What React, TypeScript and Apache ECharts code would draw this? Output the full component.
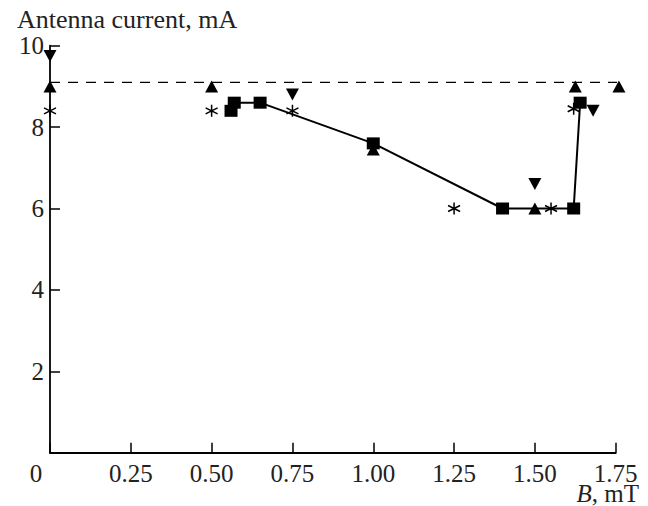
import React, { useEffect, useRef } from "react";
import * as echarts from "echarts";

const SERIF = "Liberation Serif";

// Magnetic field B (mT) and antenna current (mA) for each marker group
const squareB = [0.56, 0.57, 0.65, 1.0, 1.4, 1.62, 1.64];
const squareI = [8.4, 8.6, 8.6, 7.6, 6.0, 6.0, 8.6];

const upTriangleB = [0, 0.5, 1.0, 1.5, 1.625, 1.76];
const upTriangleI = [9.0, 9.0, 7.45, 6.0, 9.0, 9.0];

const downTriangleB = [0, 0.75, 1.5, 1.68];
const downTriangleI = [9.75, 8.8, 6.6, 8.4];

const asteriskB = [0, 0.5, 0.75, 1.25, 1.55, 1.62];
const asteriskI = [8.4, 8.4, 8.4, 6.0, 6.0, 8.45];

// Dashed reference level across the field range
const referenceB = [0, 1.76];
const referenceI = 9.1;

const xTickLabels = ["0", "0.25", "0.50", "0.75", "1.00", "1.25", "1.50", "1.75"];
const yTickLabels = ["", "2", "4", "6", "8", "10"];

const zip = (xs: number[], ys: number[]) => xs.map((x, i) => [x, ys[i]]);

const ASTERISK = "path://M6,0L6,12M0.8,3L11.2,9M0.8,9L11.2,3";

export default function App() {
  const ref = useRef<HTMLDivElement>(null);

  useEffect(() => {
    if (!ref.current) return;
    const chart = echarts.init(ref.current, null, { renderer: "svg" });

    const axisText = { fontFamily: SERIF, fontSize: 25, lineHeight: 20, color: "#222" };
    const solid = { color: "#000", opacity: 1 };

    chart.setOption({
      animation: false,
      backgroundColor: "#fff",
      grid: {
        left: 50,
        right: 32.3,
        top: 45.7,
        bottom: 53.3,
        containLabel: false,
        outerBoundsMode: "none",
      },
      xAxis: {
        type: "value",
        min: 0,
        max: 1.75,
        interval: 0.25,
        axisLine: { show: true, lineStyle: { color: "#000", width: 1.8 } },
        axisTick: { show: true, inside: true, length: 10, lineStyle: { color: "#000", width: 1.5 } },
        splitLine: { show: false },
        axisLabel: {
          ...axisText,
          margin: 11,
          formatter: (v: number) => {
            const idx = Math.round(v / 0.25);
            return idx === 0 ? "{origin|" + xTickLabels[0] + "}" : xTickLabels[idx];
          },
          rich: {
            origin: { ...axisText, padding: [0, 28, 0, 0] },
          },
        },
      },
      yAxis: {
        type: "value",
        min: 0,
        max: 10,
        interval: 2,
        axisLine: { show: true, lineStyle: { color: "#000", width: 1.8 } },
        axisTick: { show: true, inside: true, length: 10, lineStyle: { color: "#000", width: 1.5 } },
        splitLine: { show: false },
        axisLabel: {
          ...axisText,
          margin: 6,
          formatter: (v: number) => yTickLabels[Math.round(v / 2)],
        },
      },
      graphic: [
        {
          type: "text",
          left: 17,
          top: 6,
          style: {
            text: "Antenna current, mA",
            fontFamily: SERIF,
            fontSize: 26,
            fill: "#222",
          },
        },
        {
          type: "text",
          x: 639,
          y: 493,
          style: {
            text: "{i|B}, mT",
            align: "right",
            verticalAlign: "middle",
            fontFamily: SERIF,
            fontSize: 25,
            lineHeight: 20,
            fill: "#222",
            rich: {
              i: { fontFamily: SERIF, fontSize: 25, lineHeight: 20, fontStyle: "italic", color: "#222" },
            },
          },
        },
      ],
      series: [
        {
          type: "line",
          data: zip(referenceB, referenceB.map(() => referenceI)),
          symbol: "none",
          clip: false,
          silent: true,
          lineStyle: { color: "#000", width: 1.3, type: [10, 8] },
          z: 1,
        },
        {
          type: "line",
          data: zip(squareB, squareI),
          symbol: "rect",
          symbolSize: [13, 12],
          clip: false,
          lineStyle: { color: "#000", width: 2 },
          itemStyle: solid,
          z: 3,
        },
        {
          type: "scatter",
          data: zip(upTriangleB, upTriangleI),
          symbol: "triangle",
          symbolSize: [13, 12],
          clip: false,
          itemStyle: solid,
          z: 2,
        },
        {
          type: "scatter",
          data: zip(downTriangleB, downTriangleI),
          symbol: "triangle",
          symbolRotate: 180,
          symbolSize: [13, 12],
          clip: false,
          itemStyle: solid,
          z: 2,
        },
        {
          type: "scatter",
          data: zip(asteriskB, asteriskI),
          symbol: ASTERISK,
          symbolSize: [12, 12],
          clip: false,
          itemStyle: { color: "none", borderColor: "#000", borderWidth: 1.5, opacity: 1 },
          z: 2,
        },
      ],
    });

    return () => chart.dispose();
  }, []);

  return (
    <div
      ref={ref}
      style={{ position: "fixed", left: 0, top: 0, width: 648, height: 506, background: "#fff" }}
    />
  );
}
